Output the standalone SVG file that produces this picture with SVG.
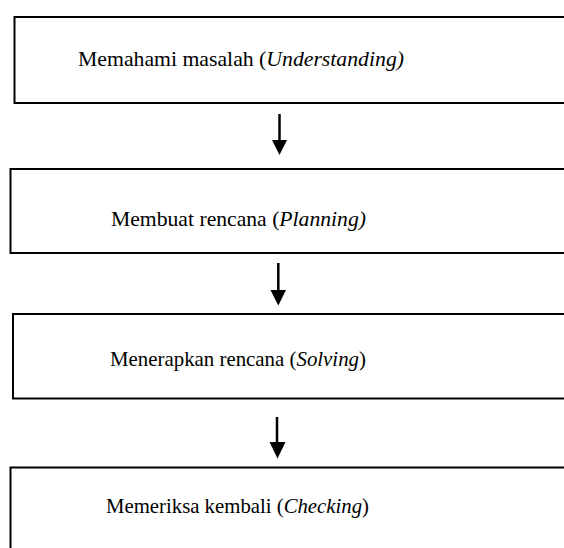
<svg xmlns="http://www.w3.org/2000/svg" width="564" height="548" viewBox="0 0 564 548">
<style>
.box{fill:#fff;stroke:#000;stroke-width:2}
.lbl{font-family:'Liberation Serif','Times New Roman',serif;font-size:21px;fill:#000;text-anchor:middle}
.it{font-style:italic}
.shaft{stroke:#000;stroke-width:2.5;fill:none}
.head{fill:#000}
</style>
<rect width="564" height="548" fill="#fff"/>
<g id="n1"><rect class="box" x="14.5" y="17" width="560" height="86"/><text class="lbl" x="241" y="66" textLength="326" lengthAdjust="spacingAndGlyphs">Memahami masalah (<tspan class="it">Understanding)</tspan></text></g>
<g id="n2"><rect class="box" x="10.5" y="169" width="565" height="84"/><text class="lbl" x="238.5" y="226" textLength="255" lengthAdjust="spacingAndGlyphs">Membuat rencana (<tspan class="it">Planning)</tspan></text></g>
<g id="n3"><rect class="box" x="13" y="314" width="560" height="84.5"/><text class="lbl" x="238" y="366" textLength="256" lengthAdjust="spacingAndGlyphs">Menerapkan rencana (<tspan class="it">Solving</tspan>)</text></g>
<g id="n4"><rect class="box" x="10.5" y="467.5" width="565" height="90"/><text class="lbl" x="237.5" y="513" textLength="263" lengthAdjust="spacingAndGlyphs">Memeriksa kembali (<tspan class="it">Checking</tspan>)</text></g>
<g id="connectors">
<line class="shaft" x1="279.5" y1="114" x2="279.5" y2="141"/>
<path class="head" d="M272,140 L287,140 L279.5,155 Z"/>
<line class="shaft" x1="278.3" y1="263" x2="278.3" y2="291"/>
<path class="head" d="M270.5,290 L286,290 L278.3,305.5 Z"/>
<line class="shaft" x1="277" y1="417" x2="277" y2="443"/>
<path class="head" d="M269.5,442 L285.5,442 L277.5,458.5 Z"/>
</g>
</svg>
